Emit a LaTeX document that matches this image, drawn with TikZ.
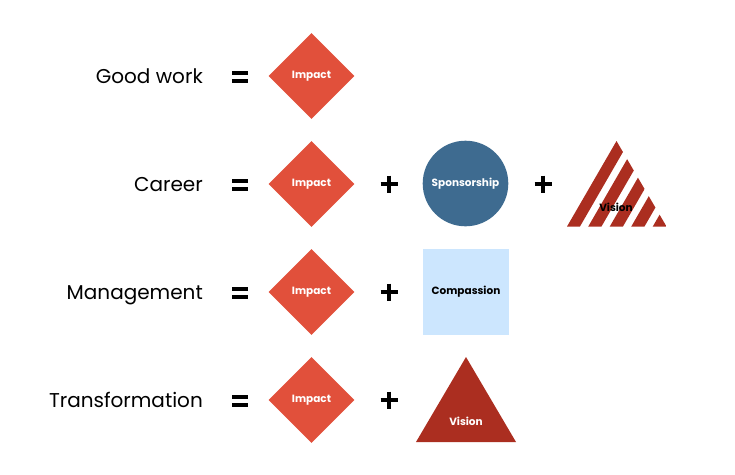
\documentclass[tikz,border=0pt]{standalone}
\usepackage{fontspec}
\setmainfont{Poppins}
\usetikzlibrary{shapes.geometric}
\definecolor{impactred}{HTML}{E1503B}
\definecolor{sponsorblue}{HTML}{3E6B90}
\definecolor{visionred}{HTML}{AB2E20}
\definecolor{compblue}{HTML}{CCE6FE}
\tikzset{
  rowlabel/.style={anchor=base east, inner sep=0pt, font=\fontsize{20}{24}\selectfont, text=black},
  smalllabel/.style={font=\fontsize{10.5}{12}\selectfont\bfseries, inner sep=0pt},
  impact/.style={diamond, aspect=1, fill=impactred, minimum width=86pt, minimum height=86pt, inner sep=0pt, text=white, smalllabel},
  sponsor/.style={circle, fill=sponsorblue, minimum size=85.6pt, inner sep=0pt, text=white, smalllabel},
  comp/.style={rectangle, fill=compblue, minimum size=86pt, inner sep=0pt, text=black, smalllabel},
  opline/.style={line width=4.2pt, black},
}
\begin{document}
\begin{tikzpicture}[x=1pt, y=-1pt]
\useasboundingbox (0,0) rectangle (735,474);
% row labels
\node[rowlabel] (l1) at (203,83) {Good work};
\node[rowlabel] (l2) at (203,191) {Career};
\node[rowlabel] (l3) at (203,299) {Management};
\node[rowlabel] (l4) at (203,407) {Transformation};
% equals signs
\foreach \r/\y in {1/76,2/184,3/292,4/400}{
  \coordinate (eqL\r) at (232,\y-3.3);
  \coordinate (eqR\r) at (248,\y-3.3);
  \coordinate (eqL\r b) at (232,\y+4.7);
  \coordinate (eqR\r b) at (248,\y+4.7);
  \draw[line width=4pt] (eqL\r) -- (eqR\r);
  \draw[line width=4pt] (eqL\r b) -- (eqR\r b);
  \node[impact] (imp\r) at (311.5,\y) {\raisebox{-1pt}{Impact}};
}
% plus signs
\foreach \n/\x/\y in {a/389/184,b/543/184,c/389/292,d/389/400}{
  \coordinate (p\n l) at (\x-8.5,\y);
  \coordinate (p\n r) at (\x+8.5,\y);
  \coordinate (p\n t) at (\x,\y-8.5);
  \coordinate (p\n b) at (\x,\y+8.5);
  \draw[opline] (p\n l) -- (p\n r);
  \draw[opline] (p\n t) -- (p\n b);
}
% sponsorship
\node[sponsor] (spons) at (465.5,183.5) {\raisebox{-1pt}{Sponsorship}};
% compassion
\node[comp] (compass) at (466,292) {Compassion};
% solid vision triangle
\fill[visionred] (416,442) -- (516,442) -- (466,357) -- cycle;
\node[smalllabel, text=white] (vis2) at (466,421) {Vision};
% striped vision triangle
\begin{scope}
  \clip (567,226.5) -- (666.5,226.5) -- (616.5,141) -- cycle;
  \foreach \k in {0,...,4}{
    \pgfmathsetmacro{\xs}{567+21.5*\k}
    \fill[visionred] (\xs-6,236.5) -- (\xs+7.2,236.5) -- (\xs+7.2+60,236.5-104) -- (\xs-6+60,236.5-104) -- cycle;
  }
\end{scope}
\node[smalllabel, text=black] (vis1) at (616,207) {Vision};
\end{tikzpicture}
\end{document}
